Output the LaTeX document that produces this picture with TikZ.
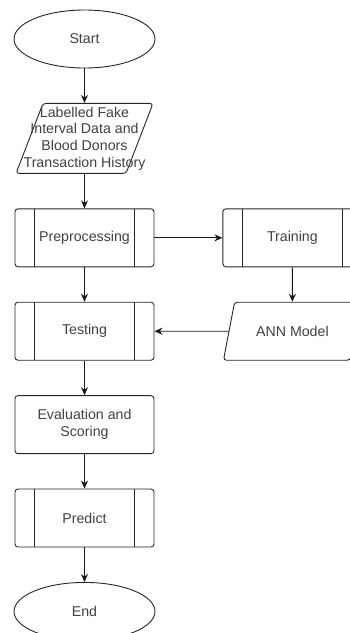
\documentclass[tikz,border=0pt]{standalone}
\usepackage{fontspec}
\setmainfont{Liberation Sans}
\usetikzlibrary{shapes.geometric, arrows.meta, positioning}

\begin{document}
\begin{tikzpicture}[node distance=34.5pt, auto,
  font=\fontsize{14.2}{16.7}\selectfont, text=black!75,
  terminal/.style={ellipse, draw=black!85, line width=0.9pt, minimum width=141pt, minimum height=58pt, align=center},
  procbox/.style={rectangle, rounded corners=3pt, draw=black!85, line width=0.9pt, minimum width=139pt, minimum height=58pt, align=center},
  subproc/.style={procbox, path picture={
      \draw[black!85, line width=0.9pt] ([xshift=19.5pt]path picture bounding box.north west) -- ([xshift=19.5pt]path picture bounding box.south west);
      \draw[black!85, line width=0.9pt] ([xshift=-19.5pt]path picture bounding box.north east) -- ([xshift=-19.5pt]path picture bounding box.south east);}},
  iobox/.style={trapezium, trapezium stretches=true, trapezium left angle=70, trapezium right angle=110, rounded corners=3pt, draw=black!85, line width=0.9pt, minimum width=139pt, minimum height=58pt, align=center},
  line/.style={draw=black!90, ->, >={Stealth[length=8pt, width=7pt]}, line width=0.9pt}]

  \useasboundingbox (0,0) rectangle (350pt,-633pt);

  \node [terminal] (start) at (84.5pt,-39pt) {Start};
  \node [iobox, minimum width=137pt, minimum height=70pt, trapezium left angle=72, trapezium right angle=108, below=of start] (data) {};
  \node [align=center] (datatext) at (data) {Labelled Fake\\Interval Data and\\Blood Donors\\Transaction History};
  \node [subproc, below=of data] (pre) {Preprocessing};
  \node [subproc, right=68pt of pre] (train) {Training};
  \node [iobox, trapezium left angle=66, trapezium right angle=114, below=of train] (ann) {ANN Model};
  \node [subproc, below=of pre] (test) {Testing};
  \node [procbox, below=of test] (eval) {Evaluation and\\Scoring};
  \node [subproc, below=of eval] (predict) {Predict};
  \node [terminal, below=of predict] (end) {End};

  \path [line] (start) -- (data);
  \path [line] (data) -- (pre);
  \path [line] (pre) -- (train);
  \path [line] (train) -- (ann);
  \path [line] (pre) -- (test);
  \path [line] (ann.west) -- (test.east);
  \path [line] (test) -- (eval);
  \path [line] (eval) -- (predict);
  \path [line] (predict) -- (end);
\end{tikzpicture}
\end{document}
